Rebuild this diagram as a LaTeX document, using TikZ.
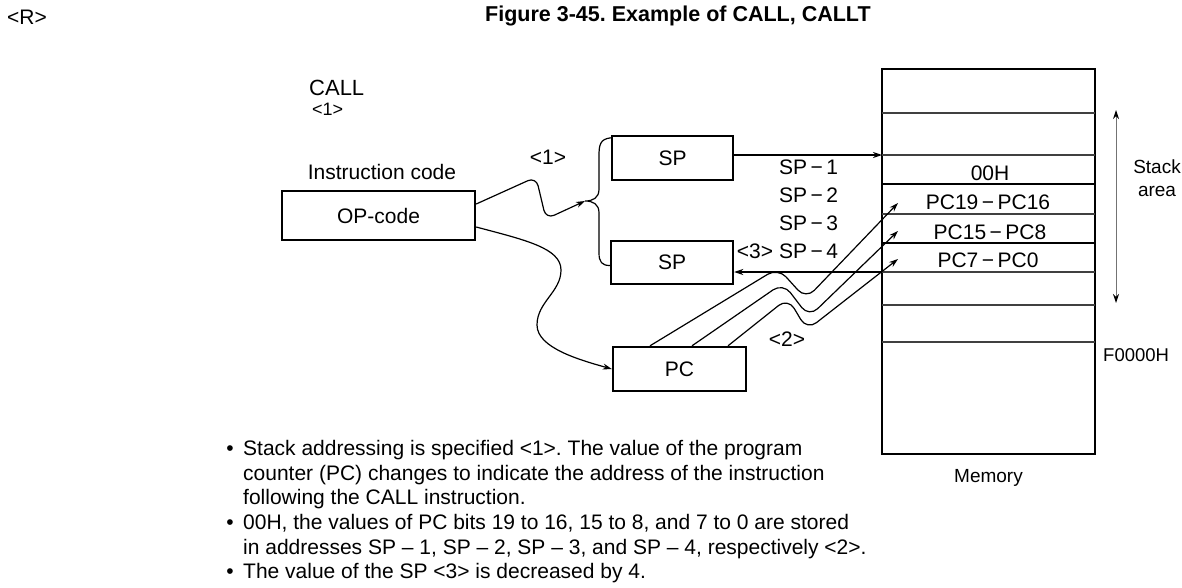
\documentclass[tikz,border=0pt]{standalone}
\usepackage{fontspec}
\setmainfont{Liberation Sans}
\usetikzlibrary{arrows.meta, positioning}
\frenchspacing

\begin{document}
\begin{tikzpicture}[
    x=1pt, y=-1pt,
    every node/.style={font=\fontsize{21}{24.6}\selectfont, inner sep=0pt},
    small/.style={font=\fontsize{19}{23}\selectfont},
    box/.style={rectangle, draw, line width=2.4pt, minimum height=44pt},
    arrow/.style={-{Stealth[length=9pt,width=6pt]}, line width=1.2pt},
    cellline/.style={line width=1.4pt, black!75},
    cellsep/.style={line width=2.2pt}
  ]
  \useasboundingbox (0,0) rectangle (1182,587);

  % heading
  \node (rmark) at (27,17) {<R>};
  \node[anchor=west, font=\fontsize{21.5}{24}\selectfont\bfseries] (title) at (485,16) {Figure 3-45. Example of CALL, CALLT};

  % instruction side
  \node[anchor=west, font=\fontsize{22}{24}\selectfont] (call) at (309,88) {CALL};
  \node[anchor=west, font=\fontsize{18}{22}\selectfont] (callnum) at (312,109) {<1>};
  \node (instr) at (382,172) {Instruction code};
  \node[box, minimum width=193pt, minimum height=49pt] (op) at (378.5,215.5) {OP-code};
  \node (n1) at (548,157) {<1>};
  \node[box, minimum width=121pt] (sp1) at (672.5,158) {SP};
  \node[box, minimum width=122pt, minimum height=43pt] (sp2) at (672,262.5) {SP};
  \node[box, minimum width=133pt] (pc) at (679.5,369) {PC};

  % memory
  \node[rectangle, draw, line width=2.6pt, minimum width=213pt, minimum height=385pt] (mem) at (988.5,261.5) {};
  \foreach \y [count=\i] in {113,155,184,214,243,272,305,342}
    \coordinate (m\i) at (882,\y);
  \foreach \i in {1,2,4,6,7,8}
    \draw[cellline] (m\i) -- +(213,0);
  \foreach \i in {3,5}
    \draw[cellsep] (m\i) -- +(213,0);
  \node (c1) at (990,173) {00H};
  \node (c2) at (988,202) {PC19\,−\,PC16};
  \node (c3) at (990,232) {PC15\,−\,PC8};
  \node (c4) at (988,260) {PC7\,−\,PC0};
  \node[small, below=14pt of mem] (memlbl) {Memory};

  \coordinate (stop) at (1116,110);
  \coordinate (sbot) at (1116,303);
  \draw[{Stealth[length=9pt,width=6pt,color=black]}-{Stealth[length=9pt,width=6pt,color=black]}, line width=1pt, black!55] (stop) -- (sbot);
  \node[small, align=center] (stack) at (1157,178.5) {Stack\\area};
  \node[anchor=west, font=\fontsize{18.5}{22}\selectfont] (base) at (1103,355) {F0000H};

  % stack pointer labels
  \foreach \k/\y in {1/167,2/195,3/223,4/251}
    \node[anchor=west] (spm\k) at (779,\y) {SP\,−\,\k};
  \node (n3) at (755,251) {<3>};
  \node (n2) at (787,339) {<2>};

  % connectors
  \draw[arrow] (sp1.east |- m2) -- (m2);
  \draw[arrow] (m6) -- (m6 -| sp2.east);

  \coordinate (fork) at (585,201);
  \draw[line width=1.2pt] ([yshift=-3pt]sp1.north west) .. controls (600,139) and (599,145) .. (599,156) -- (599,189) .. controls (599,198) and (593,201) .. (fork) .. controls (593,201) and (599,204) .. (599,213) -- (599,253) .. controls (599,262) and (602,265.5) .. ([yshift=-3pt]sp2.west);
  \draw[arrow, rounded corners=9pt] ([yshift=11.5pt]op.east) -- (536,177) -- (546,219) -- (fork);
  \draw[arrow] ([yshift=-11.5pt]op.east) .. controls (525,240) and (561,248) .. (561,270) .. controls (561,292) and (537,302) .. (537,325) .. controls (537,348) and (580,360) .. (pc.west);

  \coordinate (t1) at (898,203);
  \coordinate (t2) at (898,231);
  \coordinate (t3) at (898,259);
  \draw[arrow, rounded corners=12pt] ([xshift=-29.5pt]pc.north) -- (778,268) -- (806,299) -- (t1);
  \draw[arrow, rounded corners=12pt] ([xshift=12.5pt]pc.north) -- (783,283) -- (809,317) -- (t2);
  \draw[arrow, rounded corners=12pt] ([xshift=48.5pt]pc.north) -- (788,298) -- (807,330) -- (t3);

  % notes
  \node[anchor=base] (b1) at (230,455.5) {•};
  \node[anchor=base] (b2) at (230,529.3) {•};
  \node[anchor=base] (b3) at (230,578.5) {•};
  \node[anchor=north west, align=left] (note1) at (243,440) {Stack addressing is specified <1>. The value of the program\\counter (PC) changes to indicate the address of the instruction\\following the CALL instruction.};
  \node[anchor=north west, align=left] (note2) at (243,514) {00H, the values of PC bits 19 to 16, 15 to 8, and 7 to 0 are stored\\in addresses SP – 1, SP – 2, SP – 3, and SP – 4, respectively <2>.};
  \node[anchor=north west] (note3) at (243,563) {The value of the SP <3> is decreased by 4.};
\end{tikzpicture}
\end{document}
